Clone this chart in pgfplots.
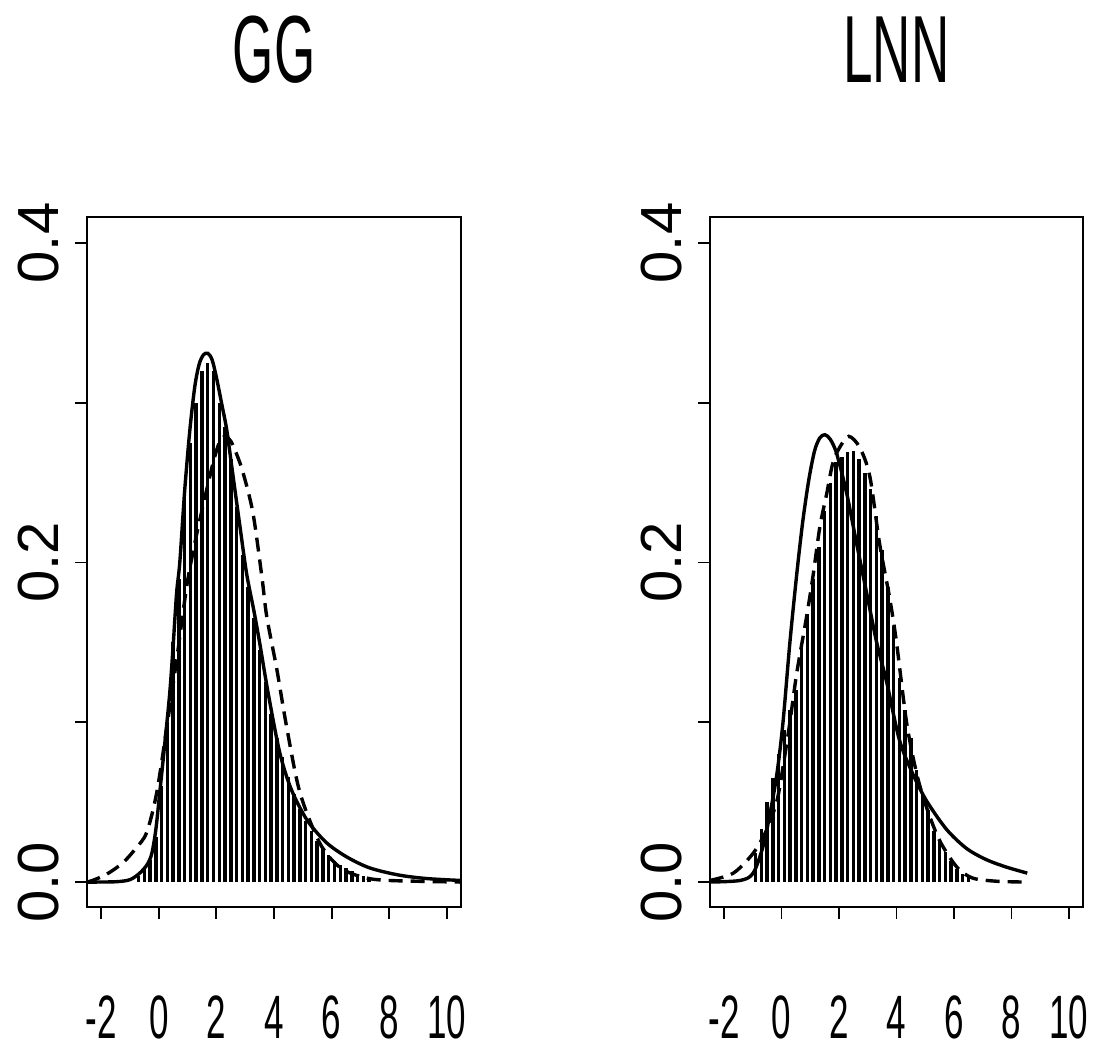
\documentclass[border=0pt]{standalone}
\usepackage{fontspec}
\setmainfont{Liberation Sans}
\usepackage{pgfplots}
\pgfplotsset{compat=1.18}

\pgfplotsset{
  rpanel/.style={
    scale only axis, width=187pt, height=345pt, anchor=south west,
    xmin=-2.49, xmax=10.49, ymin=-0.0156, ymax=0.4163,
    axis line style={line width=1.1pt},
    xtick={-2,0,2,4,6,8,10}, xticklabels={-2,0,2,4,6,8,10},
    ytick={0,0.1,0.2,0.3,0.4}, yticklabels={0.0,,0.2,,0.4},
    tick align=outside, major tick length=6pt,
    tick style={line width=0.9pt, black},
    xtick pos=bottom, ytick pos=left,
    xticklabel style={font=\fontsize{17.5pt}{18pt}\selectfont, anchor=base, inner sep=0pt, yshift=-59.5pt, yscale=1.75},
    yticklabel style={font=\fontsize{29pt}{30pt}\selectfont, xshift=-8pt, rotate=90, anchor=south, inner sep=0pt},
    title style={font=\fontsize{26.5pt}{27pt}\selectfont, at={(0.5,1)}, anchor=base, inner sep=0pt, yshift=61pt, yscale=1.8},
  },
  hist/.style={ycomb, line width=1.75pt, black},
  fitsolid/.style={line width=1.7pt, black, smooth},
  fitdash/.style={line width=1.7pt, black, smooth, dash pattern=on 7pt off 4pt},
}

\begin{document}
\begin{tikzpicture}
\useasboundingbox (0,0) rectangle (548pt,526.5pt);

% left panel
\begin{axis}[rpanel, at={(43.5pt,73pt)}, title={GG}]
\addplot[hist] coordinates {
(-0.7,0.004)(-0.5,0.008)(-0.3,0.014)(-0.1,0.028)(0.1,0.06)(0.3,0.1)(0.5,0.15)
(0.7,0.19)(0.9,0.24)(1.1,0.275)(1.3,0.3)(1.5,0.32)(1.7,0.325)(1.9,0.32)
(2.1,0.3)(2.3,0.285)(2.5,0.265)(2.7,0.235)(2.9,0.205)(3.1,0.185)(3.3,0.165)
(3.5,0.145)(3.7,0.125)(3.9,0.105)(4.1,0.09)(4.3,0.078)(4.5,0.066)(4.7,0.055)
(4.9,0.046)(5.1,0.038)(5.3,0.032)(5.5,0.026)(5.7,0.021)(5.9,0.017)(6.1,0.013)
(6.3,0.011)(6.5,0.009)(6.7,0.007)(6.9,0.005)(7.1,0.004)(7.3,0.003)
};
\addplot[fitsolid] coordinates {
(-2.5,0)(-1.5,0.0002)(-1.0,0.0015)(-0.66,0.0056)(-0.4,0.011)(-0.24,0.018)
(-0.1,0.033)(0.035,0.056)(0.2,0.085)(0.38,0.118)(0.5,0.148)(0.62,0.181)
(0.73,0.2)(0.9,0.245)(1.08,0.283)(1.25,0.31)(1.4,0.324)(1.55,0.33)(1.7,0.331)
(1.85,0.327)(2.0,0.316)(2.2,0.298)(2.36,0.283)(2.55,0.258)(2.8,0.225)
(3.05,0.193)(3.3,0.17)(3.5,0.15)(3.8,0.118)(4.2,0.081)(4.6,0.058)(5.14,0.039)
(5.8,0.025)(6.5,0.016)(7.3,0.009)(8.3,0.0045)(9.3,0.0022)(10.5,0.001)
};
\addplot[fitdash] coordinates {
(-2.5,0)(-2.3,0.001)(-1.8,0.005)(-1.25,0.012)(-0.8,0.021)(-0.42,0.031)
(-0.07,0.056)(0.28,0.097)(0.62,0.139)(0.97,0.185)(1.25,0.212)(1.53,0.235)
(1.88,0.262)(2.1,0.275)(2.3,0.279)(2.5,0.276)(2.7,0.268)(2.93,0.256)
(3.27,0.231)(3.58,0.191)(3.75,0.166)(4.1,0.133)(4.44,0.097)(4.9,0.056)
(5.6,0.024)(6.3,0.009)(7.1,0.003)(8,0.001)(10.5,0)
};
\end{axis}

% right panel
\begin{axis}[rpanel, at={(355pt,73pt)}, width=186.5pt, title={LNN}]
\addplot[hist] coordinates {
(-0.9,0.018)(-0.7,0.033)(-0.5,0.05)(-0.3,0.065)(-0.1,0.08)(0.1,0.095)
(0.3,0.108)(0.5,0.12)(0.7,0.148)(0.9,0.168)(1.1,0.19)(1.3,0.21)(1.5,0.232)
(1.7,0.25)(1.9,0.263)(2.1,0.266)(2.3,0.269)(2.5,0.27)(2.7,0.265)(2.9,0.256)
(3.1,0.246)(3.3,0.229)(3.5,0.208)(3.7,0.185)(3.9,0.16)(4.1,0.128)(4.3,0.108)
(4.5,0.09)(4.7,0.07)(4.9,0.055)(5.1,0.045)(5.3,0.032)(5.5,0.026)(5.7,0.019)
(5.9,0.013)(6.1,0.008)(6.3,0.005)(6.5,0.003)
};
\addplot[fitsolid] coordinates {
(-2.55,0)(-1.44,0.001)(-0.99,0.0056)(-0.65,0.022)(-0.4,0.043)(-0.16,0.068)
(0.05,0.1)(0.29,0.15)(0.53,0.193)(0.74,0.226)(0.95,0.252)(1.15,0.27)
(1.33,0.278)(1.51,0.28)(1.7,0.277)(1.92,0.268)(2.27,0.243)(2.61,0.212)
(2.96,0.181)(3.31,0.15)(3.66,0.125)(4.1,0.089)(4.56,0.068)(5.04,0.051)
(5.74,0.033)(6.44,0.021)(7.13,0.014)(7.82,0.0094)(8.55,0.0056)
};
\addplot[fitdash] coordinates {
(-2.5,0.001)(-1.68,0.0056)(-0.99,0.018)(-0.51,0.033)(-0.16,0.051)(0.05,0.072)
(0.29,0.1)(0.53,0.131)(0.87,0.166)(1.09,0.191)(1.33,0.222)(1.57,0.243)
(1.78,0.262)(2.02,0.272)(2.34,0.279)(2.72,0.272)(3.07,0.254)(3.41,0.212)
(3.76,0.178)(4.0,0.15)(4.35,0.1)(4.7,0.068)(5.04,0.047)(5.5,0.026)
(6.1,0.0094)(6.65,0.0025)(7.5,0.0005)(8.55,0)
};
\end{axis}
\end{tikzpicture}
\end{document}
